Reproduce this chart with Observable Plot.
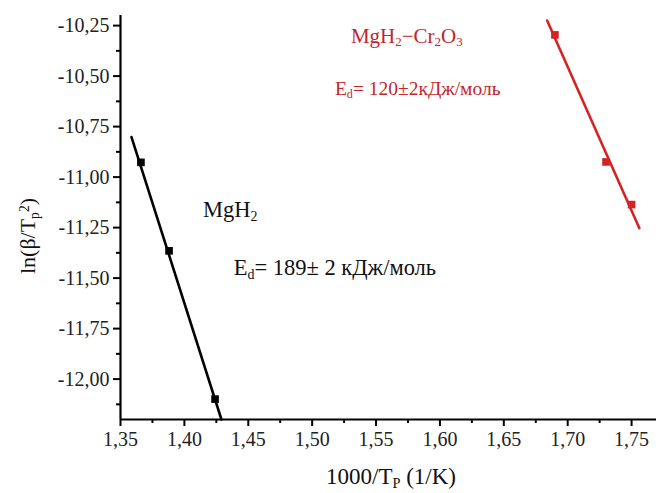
<!DOCTYPE html>
<html><head><meta charset="utf-8">
<script src="https://cdn.jsdelivr.net/npm/d3@7"></script>
<script src="https://cdn.jsdelivr.net/npm/@observablehq/plot@0.6"></script>
<style>body{margin:0;background:#fff} svg text{font-family:"Liberation Serif","Times New Roman",serif !important}</style>
</head><body><div id="chart"></div>
<script>
// Data
const mgh2X = [1.366, 1.388, 1.424];
const mgh2Y = [-10.927, -11.365, -12.099];
const crX = [1.690, 1.730, 1.750];
const crY = [-10.296, -10.925, -11.136];
// fitted line end points
const mgh2FitX = [1.3586, 1.4290];
const mgh2FitY = [-10.802, -12.200];
const crFitX = [1.6839, 1.7561];
const crFitY = [-10.225, -11.253];
// ticks
const xMajor = [1.35, 1.40, 1.45, 1.50, 1.55, 1.60, 1.65, 1.70, 1.75];
const xMinor = [1.375, 1.425, 1.475, 1.525, 1.575, 1.625, 1.675, 1.725];
const yMajor = [-12.00, -11.75, -11.50, -11.25, -11.00, -10.75, -10.50, -10.25];
const yMinor = [-12.125, -11.875, -11.625, -11.375, -11.125, -10.875, -10.625, -10.375];

const RED = "#d42323";
const RED_TEXT = "#c3262c";
const SERIF = "Liberation Serif";
const fmt = d => d.toFixed(2).replace(".", ",");

const pts = (xs, ys) => xs.map((x, i) => ({x, y: ys[i]}));

const plot = Plot.plot({
  width: 656,
  height: 493,
  marginLeft: 120,
  marginRight: 0,
  marginTop: 15,
  marginBottom: 74,
  style: {fontFamily: SERIF, background: "#fff", overflow: "visible"},
  x: {domain: [1.35, 1.7695], axis: null},
  y: {domain: [-12.2, -10.2], axis: null},
  marks: [
    Plot.axisX(xMinor, {tickSize: 4, text: null, label: null, strokeWidth: 2, stroke: "black"}),
    Plot.axisX(xMajor, {tickSize: 7, tickPadding: 5, tickFormat: fmt, strokeWidth: 2, stroke: "black", fontSize: 20, fontFamily: SERIF, fill: "#222", label: null}),
    Plot.axisY(yMinor, {tickSize: 4, text: null, label: null, strokeWidth: 2, stroke: "black"}),
    Plot.axisY(yMajor, {tickSize: 7, tickPadding: 4, tickFormat: fmt, strokeWidth: 2, stroke: "black", fontSize: 20, fontFamily: SERIF, fill: "#222", label: null}),
    Plot.ruleX([1.35], {strokeWidth: 2.2, stroke: "black"}),
    Plot.ruleY([-12.2], {strokeWidth: 2.2, stroke: "black"}),
    Plot.line(pts(mgh2FitX, mgh2FitY), {x: "x", y: "y", stroke: "black", strokeWidth: 2.6}),
    Plot.line(pts(crFitX, crFitY), {x: "x", y: "y", stroke: RED, strokeWidth: 2.6}),
    Plot.dot(pts(mgh2X, mgh2Y), {x: "x", y: "y", symbol: "square", r: 4.3, fill: "black", stroke: "none"}),
    Plot.dot(pts(crX, crY), {x: "x", y: "y", symbol: "square", r: 4.3, fill: RED, stroke: "none"})
  ]
});

document.getElementById("chart").appendChild(plot);
const svg = d3.select(plot);
const sx = plot.scale("x"), sy = plot.scale("y");

function addText(x, y, parts, opts = {}) {
  const t = svg.append("text")
    .attr("x", x).attr("y", y)
    .attr("font-size", opts.size || 21)
    .attr("fill", opts.fill || "#111")
    .attr("text-anchor", opts.anchor || "start")
    .style("font-family", SERIF);
  if (opts.transform) t.attr("transform", opts.transform).attr("x", 0).attr("y", 0);
  for (const [s, kind] of parts) {
    const ts = t.append("tspan").text(s);
    if (kind === "sub") ts.attr("baseline-shift", "-25%").attr("font-size", "62%");
    if (kind === "sup") ts.attr("baseline-shift", "40%").attr("font-size", "62%");
  }
  return t;
}

// annotations (data coordinates)
addText(sx.apply(1.5745), sy.apply(-10.339), [["MgH"], ["2", "sub"], ["\u2212Cr"], ["2", "sub"], ["O"], ["3", "sub"]], {anchor: "middle", fill: RED_TEXT, size: 21});
addText(sx.apply(1.5182), sy.apply(-10.596), [["E"], ["d", "sub"], ["= 120\u00b12\u043a\u0414\u0436/\u043c\u043e\u043b\u044c"]], {fill: RED_TEXT, size: 19.5});
addText(sx.apply(1.415), sy.apply(-11.199), [["MgH"], ["2", "sub"]], {size: 22.5});
addText(sx.apply(1.439), sy.apply(-11.485), [["E"], ["d", "sub"], ["= 189\u00b1 2 \u043a\u0414\u0436/\u043c\u043e\u043b\u044c"]], {size: 22.5});

// axis labels
addText(0, 0, [["1000/T"], ["P", "sub"], [" (1/K)"]], {anchor: "middle", size: 23, transform: "translate(391,484)"});
addText(0, 0, [["ln(\u03b2/T"], ["p", "sub"], ["2", "sup"], [")"]], {anchor: "middle", size: 22, transform: "translate(35,236) rotate(-90)"});
</script>
</body></html>
